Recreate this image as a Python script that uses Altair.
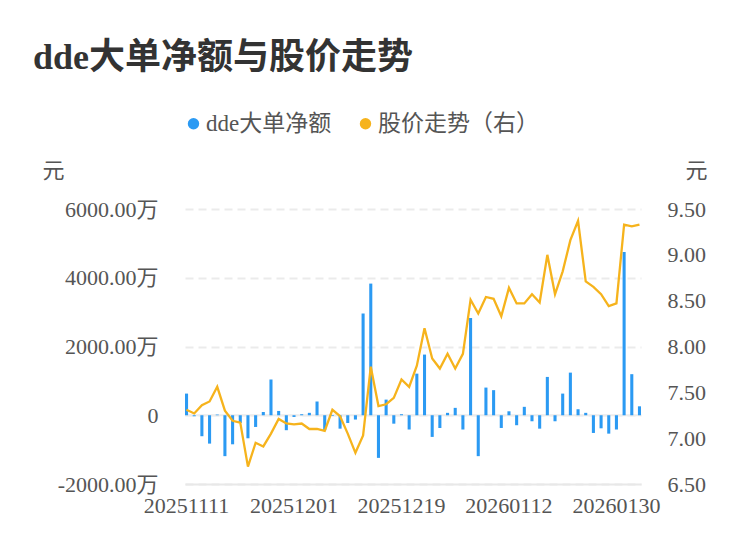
import altair as alt
import pandas as pd

dates = [
    "20251111", "20251112", "20251113", "20251114", "20251117", "20251118", "20251119",
    "20251120", "20251121", "20251124", "20251125", "20251126", "20251127", "20251128",
    "20251201", "20251202", "20251203", "20251204", "20251205", "20251208", "20251209",
    "20251210", "20251211", "20251212", "20251215", "20251216", "20251217", "20251218",
    "20251219", "20251222", "20251223", "20251224", "20251225", "20251226", "20251229",
    "20251230", "20251231", "20260105", "20260106", "20260107", "20260108", "20260109",
    "20260112", "20260113", "20260114", "20260115", "20260116", "20260119", "20260120",
    "20260121", "20260122", "20260123", "20260126", "20260127", "20260128", "20260129",
    "20260130", "20260202", "20260203", "20260204",
]

# dde net large orders, unit: 万元
dde = [
    630, -30, -610, -825, 20, -1190, -845, -225, -670, -340,
    95, 1040, 125, -435, -50, 30, 70, 400, -435, -20,
    -390, -225, -125, 2960, 3830, -1240, 455, -245, 30, -415,
    1210, 1765, -630, -370, 70, 215, -415, 2830, -1190, 805,
    730, -370, 115, -290, 245, -175, -390, 1115, -175, 630,
    1240, 175, 70, -515, -380, -535, -415, 4750, 1195, 260,
]

# share price, unit: 元
price = [
    7.31, 7.27, 7.36, 7.40, 7.56, 7.30, 7.19, 7.17, 6.69, 6.95,
    6.91, 7.05, 7.21, 7.16, 7.15, 7.16, 7.10, 7.10, 7.08, 7.31,
    7.24, 7.05, 6.84, 7.03, 7.78, 7.35, 7.37, 7.44, 7.64, 7.56,
    7.79, 8.20, 7.87, 7.76, 7.92, 7.76, 7.92, 8.51, 8.36, 8.54,
    8.52, 8.33, 8.64, 8.47, 8.47, 8.57, 8.48, 9.00, 8.57, 8.82,
    9.16, 9.37, 8.71, 8.65, 8.57, 8.44, 8.47, 9.33, 9.31, 9.33,
]

series_names = ["dde大单净额", "股价走势（右）"]
left_ticks = [-2000, 0, 2000, 4000, 6000]
right_ticks = [6.5, 7.0, 7.5, 8.0, 8.5, 9.0, 9.5]
label_dates = [dates[i] for i in (0, 14, 28, 42, 56)]

BLUE = "#2b9af3"
ORANGE = "#f6b31c"
FONT = "Liberation Serif, Noto Sans CJK SC"
TXT = "#555555"

df = pd.DataFrame({"date": dates, "dde": dde, "price": price})

color_scale = alt.Scale(domain=series_names, range=[BLUE, ORANGE])
legend = alt.Legend(
    title=None, orient="none", legendX=-3, legendY=-97, direction="horizontal",
    symbolType="circle", symbolSize=130, symbolStrokeWidth=0,
    labelFont=FONT, labelFontSize=23, labelColor=TXT, columnPadding=22,
    labelOffset=1, padding=0, labelLimit=400,
)

x_enc = alt.X(
    "date:O", sort=None,
    scale=alt.Scale(paddingInner=0.6, paddingOuter=0),
    axis=alt.Axis(
        values=label_dates, labelAngle=0, title=None, ticks=False,
        domain=True, domainColor="#e8e8e8", domainWidth=2, grid=False,
        labelFont=FONT, labelFontSize=22, labelColor=TXT, labelPadding=11,
    ),
)

left_scale = alt.Scale(domain=[-2000, 6000], nice=False, zero=False)
right_scale = alt.Scale(domain=[6.5, 9.5], nice=False, zero=False)

base = alt.Chart(df)

bars = base.transform_calculate(series="'dde大单净额'").mark_bar().encode(
    x=x_enc,
    y=alt.Y(
        "dde:Q", scale=left_scale,
        axis=alt.Axis(
            orient="left", values=left_ticks, title="元", titleAngle=0,
            titleX=-132, titleY=-39, titleAlign="center", titleBaseline="middle",
            titleFont=FONT, titleFontSize=22, titleColor=TXT, titleFontWeight="normal",
            labelExpr="datum.value == 0 ? '0' : (datum.value < 0 ? '-' : '') + format(abs(datum.value), '.2f') + '万'",
            labelFont=FONT, labelFontSize=22, labelColor=TXT, labelPadding=27,
            ticks=False, domain=False, grid=True, gridColor="#ebebeb",
            gridDash=[8, 5], gridWidth=2,
        ),
    ),
    color=alt.Color("series:N", scale=color_scale, legend=legend),
)

zero_rule = alt.Chart(pd.DataFrame({"v": [0]})).mark_rule(
    color="#ececec", strokeWidth=2
).encode(y=alt.Y("v:Q", scale=left_scale))

left_layer = alt.layer(zero_rule, bars)

line = base.transform_calculate(series="'股价走势（右）'").mark_line(
    strokeWidth=2.3
).encode(
    x=x_enc,
    y=alt.Y(
        "price:Q", scale=right_scale,
        axis=alt.Axis(
            orient="right", values=right_ticks, title="元", titleAngle=0,
            titleX=55, titleY=-39, titleAlign="center", titleBaseline="middle",
            titleFont=FONT, titleFontSize=22, titleColor=TXT, titleFontWeight="normal",
            format=".2f", labelFont=FONT, labelFontSize=22, labelColor=TXT,
            labelPadding=26, ticks=False, domain=False, grid=False,
        ),
    ),
    color=alt.Color("series:N", scale=color_scale, legend=legend),
)

chart = alt.layer(left_layer, line).resolve_scale(y="independent").properties(
    width=456, height=275,
    background="white",
    autosize=alt.AutoSizeParams(type="none"),
    padding={"left": 177, "top": 201, "right": 101, "bottom": 66},
    title=alt.TitleParams(
        "dde大单净额与股价走势", anchor="start", frame="group", fontSize=36, font=FONT,
        fontWeight="bold", color="#333333", dx=-152, dy=-31,
    ),
).configure_view(stroke=None)

chart.save("out.html", embed_options={"renderer": "svg", "actions": False})
